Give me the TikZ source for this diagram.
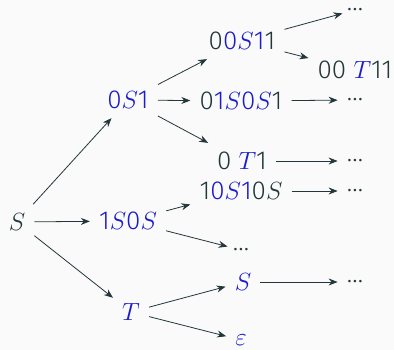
\documentclass[tikz,border=0pt]{standalone}
\usepackage{fontspec}
\setmainfont{Fira Sans Light}
\usetikzlibrary{arrows.meta}
\definecolor{fg}{HTML}{23373B}
\definecolor{hlblue}{RGB}{28,28,205}
\definecolor{bgc}{HTML}{FAFAFA}
\newcommand\blu[1]{\textcolor{hlblue}{#1}}
\begin{document}
\begin{tikzpicture}[x=1pt,y=-1pt,
  every node/.style={font=\fontsize{26}{30}\selectfont, text=fg, inner xsep=9pt, inner ysep=9pt},
  dotsnode/.style={inner ysep=2pt},
  arr/.style={-{Stealth[length=9pt,width=7pt]}, draw=fg, line width=0.8pt}]
\fill[bgc] (0,0) rectangle (394,350);
\useasboundingbox (0,0) rectangle (394,350);
\node (s) at (17,222) {$S$};
\node (a) at (128,100) {\blu{0$S$1}};
\node (b) at (128,221) {\blu{1$S$0$S$}};
\node (c) at (131,312) {\blu{$T$}};
\node (aa) at (242,41) {0\blu{0$S$1}1};
\node (ab) at (241,101) {0\blu{1$S$0$S$}1};
\node (ac) at (242,161) {0 \blu{$T$}1};
\node (ba) at (241,191) {1\blu{0$S$1}0$S$};
\node[dotsnode] (bb) at (241,250) {…};
\node (ca) at (243,282) {\blu{$S$}};
\node (cb) at (241,340) {\blu{$\varepsilon$}};
\node[dotsnode] (aaa) at (355,10) {…};
\node (aab) at (355,70) {00 \blu{$T$}11};
\node[dotsnode] (aba) at (355,100) {…};
\node[dotsnode] (aca) at (355,161) {…};
\node[dotsnode] (baa) at (355,191) {…};
\node[dotsnode] (caa) at (355,282) {…};
\draw[arr] (s) -- (a);
\draw[arr] (s) -- (b);
\draw[arr] (s) -- (c);
\draw[arr] (a) -- (aa);
\draw[arr] (a) -- (ab);
\draw[arr] (a) -- (ac);
\draw[arr] (b) -- (ba);
\draw[arr] (b) -- (bb);
\draw[arr] (c) -- (ca);
\draw[arr] (c) -- (cb);
\draw[arr] (aa) -- (aaa);
\draw[arr] (aa) -- (aab);
\draw[arr] (ab) -- (aba);
\draw[arr] (ac) -- (aca);
\draw[arr] (ba) -- (baa);
\draw[arr] (ca) -- (caa);
\end{tikzpicture}
\end{document}
